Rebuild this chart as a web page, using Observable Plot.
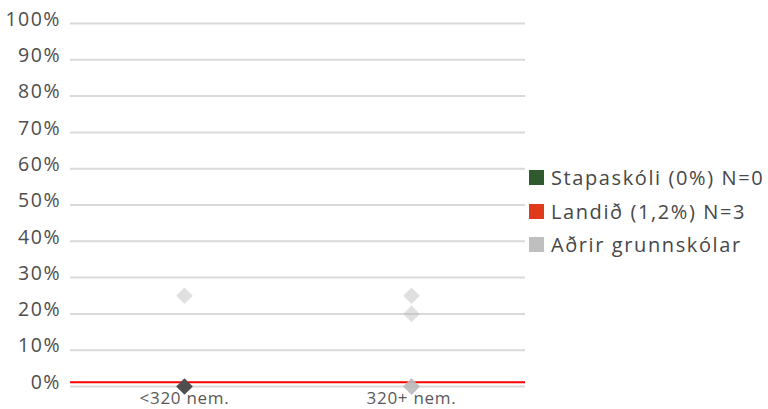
<!DOCTYPE html>
<html>
<head>
<meta charset="utf-8">
<script src="https://cdn.jsdelivr.net/npm/d3@7"></script>
<script src="https://cdn.jsdelivr.net/npm/@observablehq/plot@0.6"></script>
<style>
  html, body { margin: 0; padding: 0; background: #fff; }
  #wrap { position: relative; width: 768px; height: 409px; font-family: "Open Sans", sans-serif; }
  #legend { position: absolute; left: 529px; top: 161px; font-size: 20px; letter-spacing: 1.6px; color: #474747; }
  .row { display: flex; align-items: center; height: 33.5px; }
  .sw { width: 15px; height: 15px; margin-right: 7px; }
</style>
</head>
<body>
<div id="wrap"><div id="chart"></div><div id="legend"></div></div>
<script>
const categories = ["<320 nem.", "320+ nem."];
const yTicks = [0, 10, 20, 30, 40, 50, 60, 70, 80, 90, 100];
// Aðrir grunnskólar (other schools), percent
const otherCats = ["<320 nem.", "320+ nem.", "320+ nem.", "320+ nem.", "320+ nem.", "320+ nem.", "320+ nem."];
const otherVals = [25, 25, 20, 0, 0, 0, 0];
// Stapaskóli
const schoolCat = ["<320 nem."];
const schoolVal = [0];
// Landið
const countryVal = 1.2;
const legendLabels = ["Stapaskóli (0%) N=0", "Landið (1,2%) N=3", "Aðrir grunnskólar"];
const legendColors = ["#2e5a2e", "#e03a1a", "#bfbfbf"];

const others = otherCats.map((c, i) => ({cat: c, v: otherVals[i]}));
const school = schoolCat.map((c, i) => ({cat: c, v: schoolVal[i]}));

const chart = Plot.plot({
  width: 768,
  height: 409,
  marginLeft: 70,
  marginRight: 243,
  marginTop: 23,
  marginBottom: 23,
  style: {fontFamily: "'Open Sans', sans-serif", fontSize: "19.5px", color: "#4d4d4d", background: "#fff"},
  x: {type: "point", domain: categories, padding: 0.5, label: null, tickSize: 0, tickPadding: 5},
  y: {domain: [0, 100], ticks: yTicks, tickFormat: d => d + "%", label: null, tickSize: 0, tickPadding: 9.5},
  marks: [
    Plot.ruleY(yTicks, {stroke: "#d9d9d9", strokeWidth: 2}),
    Plot.ruleY([countryVal], {stroke: "#ff0000", strokeWidth: 2}),
    Plot.dot(others, {x: "cat", y: "v", symbol: "diamond2", r: 7.5, fill: "#bbbbbb", fillOpacity: 0.45, stroke: "none"}),
    Plot.dot(school, {x: "cat", y: "v", symbol: "diamond2", r: 7.5, fill: "#4f4f4f", stroke: "none"})
  ]
});
document.getElementById("chart").appendChild(chart);
const svg = d3.select(chart);
svg.selectAll("g[aria-label='y-axis tick label']").each(function() {
  const g = d3.select(this);
  g.attr("transform", ((g.attr("transform") || "") + " translate(0,-4)").trim());
});
svg.selectAll("g[aria-label='y-axis tick label'] text").style("letter-spacing", "1.5px");
svg.selectAll("g[aria-label='x-axis tick label'] text").style("font-size", "17px").style("letter-spacing", "0.7px").attr("fill", "#595959");

const lg = d3.select("#legend");
legendLabels.forEach((t, i) => {
  const row = lg.append("div").attr("class", "row");
  row.append("div").attr("class", "sw").style("background", legendColors[i]);
  row.append("span").text(t);
});
</script>
</body>
</html>
